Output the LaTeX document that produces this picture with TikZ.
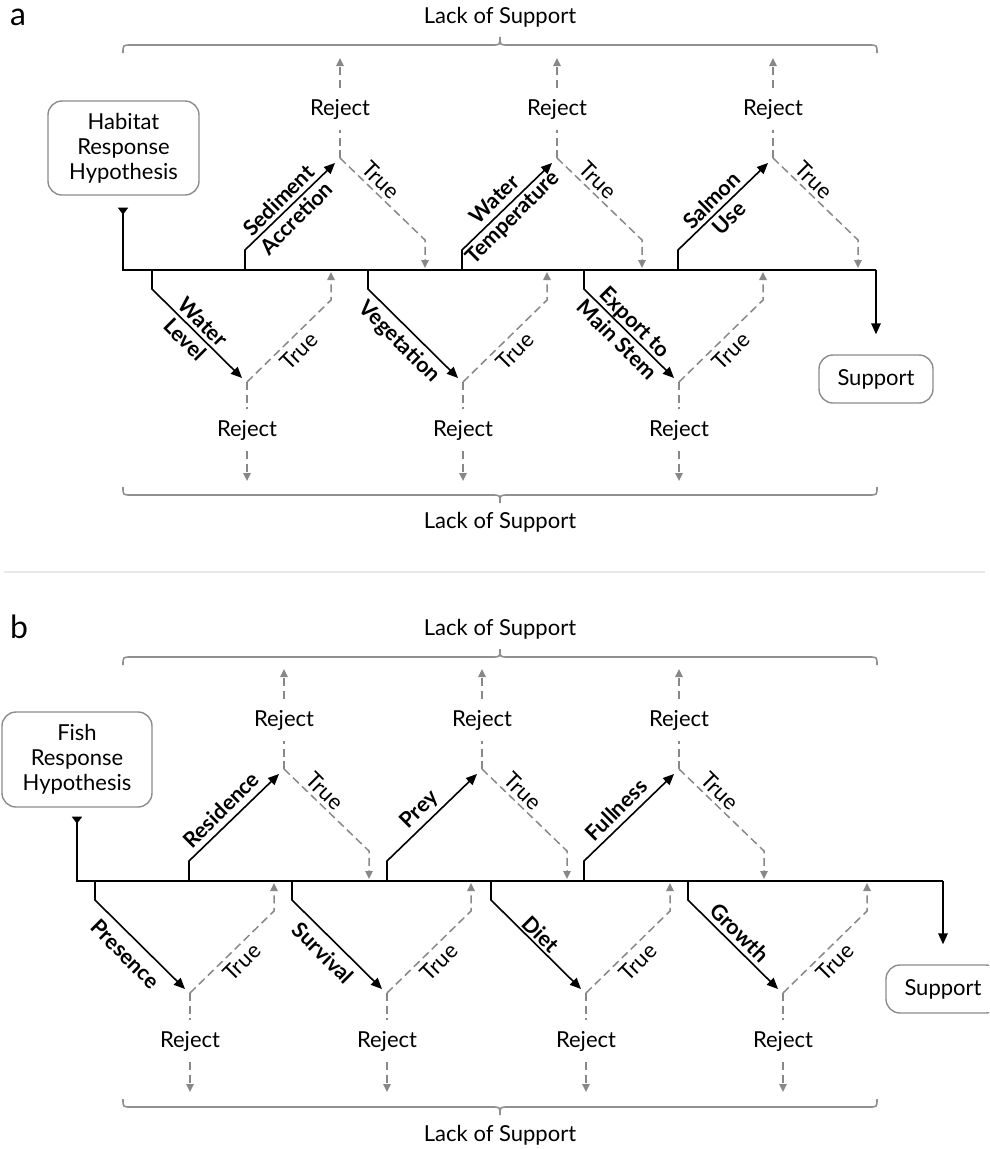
\documentclass[tikz,border=0pt]{standalone}
\usepackage{fontspec}
\setmainfont{Lato}
\usetikzlibrary{arrows.meta,calc}

\definecolor{testgray}{HTML}{888888}
\definecolor{boxgray}{HTML}{8C8C8C}
\definecolor{bracegray}{HTML}{909090}
\definecolor{rulegray}{HTML}{E8E8E8}

\newcommand\diagfont{\fontsize{22}{25}\selectfont}
\newcommand\factorfont{\fontsize{21.5}{25}\selectfont\bfseries}

\tikzset{
  bigtip/.tip={Triangle[length=11pt,width=9.5pt]},
  smalltip/.tip={Triangle[length=8pt,width=7.5pt]},
  stem/.style={line width=1.6pt, black},
  test/.style={testgray, line width=1.5pt, dash pattern=on 8pt off 4.5pt},
  bracepath/.style={bracegray, line width=1.6pt},
  rejtext/.style={font=\diagfont, inner xsep=2pt, inner ysep=11pt},
  truetext/.style={font=\diagfont, inner sep=1pt},
  factor/.style={font=\factorfont, align=center, inner sep=1pt},
  hypbox/.style={draw=boxgray, line width=1.4pt, rounded corners=14pt,
    minimum width=151pt, minimum height=94pt, align=center, font=\diagfont},
  supbox/.style={draw=boxgray, line width=1.4pt, rounded corners=14pt,
    minimum width=114pt, minimum height=48pt, font=\diagfont},
  lack/.style={font=\diagfont},
  panel/.style={font=\fontsize{32}{36}\selectfont, anchor=base west, inner sep=0pt}
}

% test branch rising above the main line
% #1 name, #2 x of the stub, #3 y of the main line, #4 factor text, #5 offset of the factor text
\newcommand\upbranch[5]{%
  \coordinate (#1-s) at (#2,#3);
  \coordinate (#1-k) at (#2,#3-20);
  \coordinate (#1-t) at (#2+90,#3-107);
  \coordinate (#1-j) at (#2+95,#3-112);
  \coordinate (#1-u) at (#2+95,#3-212);
  \coordinate (#1-c) at (#2+180,#3-30);
  \coordinate (#1-e) at (#2+180,#3-2);
  \coordinate (#1-m) at ($(#1-k)!0.47!(#1-t)$);
  \node[rejtext] (#1-r) at (#2+95,#3-161) {Reject};
  \node[factor,rotate=45] (#1-f) at ($(#1-m)!#5!90:(#1-t)$) {#4};
  \node[truetext,rotate=-45] (#1-v) at (#2+136,#3-90) {True};
  \draw[stem,-bigtip] (#1-s) -- (#1-k) -- (#1-t);
  \draw[test] (#1-j) -- (#1-r);
  \draw[test,-smalltip] (#1-r) -- (#1-u);
  \draw[test,-smalltip] (#1-j) -- (#1-c) -- (#1-e);
}

% test branch falling below the main line
\newcommand\downbranch[5]{%
  \coordinate (#1-s) at (#2,#3);
  \coordinate (#1-k) at (#2,#3+19);
  \coordinate (#1-t) at (#2+90,#3+108);
  \coordinate (#1-j) at (#2+95,#3+112);
  \coordinate (#1-u) at (#2+95,#3+211);
  \coordinate (#1-c) at (#2+179,#3+30);
  \coordinate (#1-e) at (#2+179,#3+2);
  \coordinate (#1-m) at ($(#1-k)!0.47!(#1-t)$);
  \node[rejtext] (#1-r) at (#2+95,#3+160) {Reject};
  \node[factor,rotate=-45] (#1-f) at ($(#1-m)!#5!90:(#1-t)$) {#4};
  \node[truetext,rotate=45] (#1-v) at (#2+147,#3+81) {True};
  \draw[stem,-bigtip] (#1-s) -- (#1-k) -- (#1-t);
  \draw[test] (#1-j) -- (#1-r);
  \draw[test,-smalltip] (#1-r) -- (#1-u);
  \draw[test,-smalltip] (#1-j) -- (#1-c) -- (#1-e);
}

% brace over the branches (#1 = y of the brace body), cusp pointing up
\newcommand\bracetop[1]{%
  \draw[bracepath] (123,#1+8) .. controls (123,#1) .. (131,#1) -- (492,#1)
    .. controls (500,#1) .. (500,#1-8) .. controls (500,#1) .. (508,#1) -- (869,#1)
    .. controls (877,#1) .. (877,#1+8);
}
% brace under the branches, cusp pointing down
\newcommand\bracebottom[1]{%
  \draw[bracepath] (123,#1-8) .. controls (123,#1) .. (131,#1) -- (492,#1)
    .. controls (500,#1) .. (500,#1+8) .. controls (500,#1) .. (508,#1) -- (869,#1)
    .. controls (877,#1) .. (877,#1-8);
}

\begin{document}
\begin{tikzpicture}[x=1pt,y=-1pt]
\useasboundingbox (0,0) rectangle (989,1149);
\clip (0,0) rectangle (989,1149);

% ---------------- panel a ----------------
\node[panel] (lab-a) at (10,25) {a};
\node[lack] (lack-a1) at (500,17) {Lack of Support};
\node[lack] (lack-a2) at (500,522) {Lack of Support};
\bracetop{45}
\bracebottom{495}

\node[hypbox] (hyp-a) at (123.5,148) {Habitat\\Response\\Hypothesis};
\node[supbox] (sup-a) at (876,379) {Support};

\upbranch{ua1}{245}{270}{Sediment\\Accretion}{0pt}
\upbranch{ua2}{462}{270}{Water\\Temperature}{0pt}
\upbranch{ua3}{678}{270}{Salmon\\Use}{0pt}
\downbranch{da1}{152}{270}{Water\\Level}{0pt}
\downbranch{da2}{368}{270}{Vegetation}{-16pt}
\downbranch{da3}{584}{270}{Export to\\Main Stem}{0pt}

\coordinate (a-l) at (123,270);
\coordinate (a-r) at (876,270);
\draw[stem,{Triangle[reversed,length=7pt,width=10pt]}-,shorten <=12pt]
  (hyp-a.south -| a-l) -- (a-l) -- (a-r);
\draw[stem,-bigtip,shorten >=20pt] (a-r) -- (sup-a);

% separating rule
\draw[rulegray,line width=2pt] (4,572) -- (985,572);

% ---------------- panel b ----------------
\node[panel] (lab-b) at (10,638) {b};
\node[lack] (lack-b1) at (500,629) {Lack of Support};
\node[lack] (lack-b2) at (500,1135) {Lack of Support};
\bracetop{657}
\bracebottom{1107}

\node[hypbox,minimum width=150pt,minimum height=95pt] (hyp-b) at (77,759.5) {Fish\\Response\\Hypothesis};
\node[supbox] (sup-b) at (943,989) {Support};

\upbranch{ub1}{189}{881}{Residence}{14.5pt}
\upbranch{ub2}{387}{881}{Prey}{14pt}
\upbranch{ub3}{584}{881}{Fullness}{14.5pt}
\downbranch{db1}{95}{881}{Presence}{-17pt}
\downbranch{db2}{292}{881}{Survival}{-15.6pt}
\downbranch{db3}{491}{881}{Diet}{11pt}
\downbranch{db4}{688}{881}{Growth}{13pt}

\coordinate (b-l) at (77,881);
\coordinate (b-r) at (943,881);
\draw[stem,{Triangle[reversed,length=7pt,width=10pt]}-,shorten <=9pt]
  (hyp-b.south -| b-l) -- (b-l) -- (b-r);
\draw[stem,-bigtip,shorten >=20pt] (b-r) -- (sup-b);
\end{tikzpicture}
\end{document}
